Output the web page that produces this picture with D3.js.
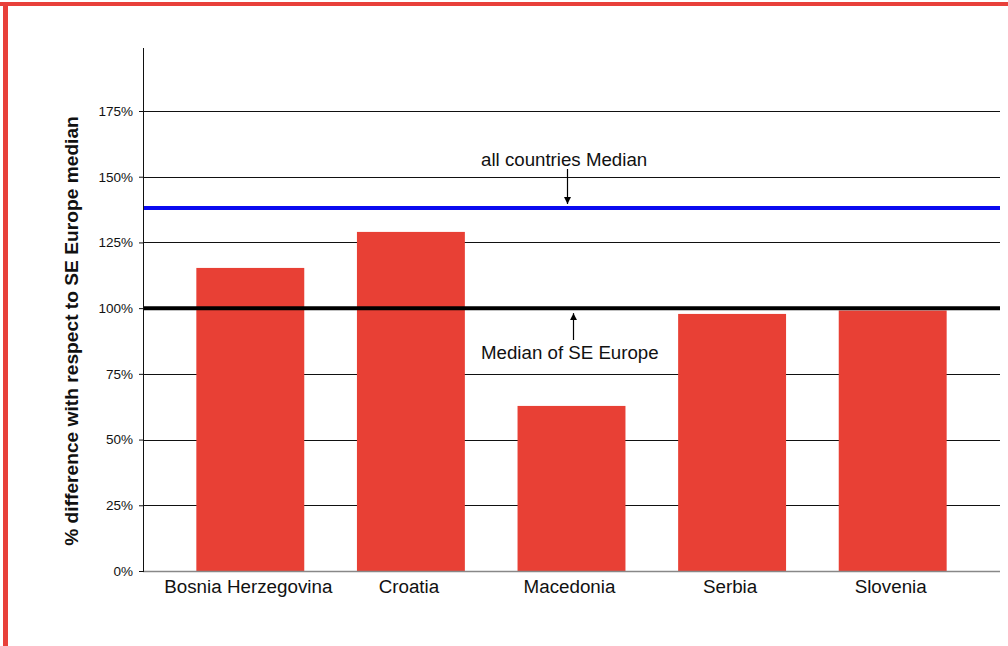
<!DOCTYPE html>
<html>
<head>
<meta charset="utf-8">
<script src="https://cdn.jsdelivr.net/npm/d3@7/dist/d3.min.js"></script>
<style>
  html, body { margin: 0; padding: 0; background: #fff; }
  svg { display: block; }
  text { font-family: "Liberation Sans", Arial, sans-serif; fill: #111; }
</style>
</head>
<body>
<svg id="chart" width="1008" height="646"></svg>
<script>
// Country values, as % of the SE Europe median
const countries = ["Bosnia Herzegovina", "Croatia", "Macedonia", "Serbia", "Slovenia"];
const values = [115.3, 129.0, 62.8, 97.8, 99.1];

// Reference lines
const seEuropeMedian = 100;
const allCountriesMedian = 138.1;

// Axis ticks
const yTicks = [0, 25, 50, 75, 100, 125, 150, 175];
const yTickLabels = ["0%", "25%", "50%", "75%", "100%", "125%", "150%", "175%"];

const svg = d3.select("#chart");
const W = 1008, H = 646;

// Frame: red rule along the top and left edges
svg.append("rect").attr("x", 0).attr("y", 2).attr("width", W).attr("height", 4).attr("fill", "#e8403a");
svg.append("rect").attr("x", 3).attr("y", 2).attr("width", 5).attr("height", H - 2).attr("fill", "#e8403a");

const plot = { left: 143, right: 1000, top: 48, bottom: 571 };

const y = d3.scaleLinear().domain([0, 175]).range([plot.bottom, 111]);
const x = d3.scaleBand().domain(countries).range([170, 973]).paddingInner(0.328).paddingOuter(0.164);

// Horizontal gridlines
svg.append("g").selectAll("line")
  .data(yTicks.filter(d => d !== 0 && d !== seEuropeMedian))
  .join("line")
  .attr("x1", plot.left).attr("x2", plot.right)
  .attr("y1", d => Math.round(y(d)) + 0.5).attr("y2", d => Math.round(y(d)) + 0.5)
  .attr("stroke", "#111").attr("stroke-width", 1);

// Bars
svg.append("g").selectAll("rect")
  .data(countries.map((c, i) => ({ c, v: values[i] })))
  .join("rect")
  .attr("x", d => x(d.c))
  .attr("width", x.bandwidth())
  .attr("y", d => y(d.v))
  .attr("height", d => y(0) - y(d.v))
  .attr("fill", "#e84035");

// Baseline
svg.append("line")
  .attr("x1", plot.left).attr("x2", plot.right)
  .attr("y1", y(0) + 0.5).attr("y2", y(0) + 0.5)
  .attr("stroke", "#888").attr("stroke-width", 1.5);

// Median reference lines
svg.append("line")
  .attr("x1", plot.left).attr("x2", plot.right)
  .attr("y1", y(allCountriesMedian)).attr("y2", y(allCountriesMedian))
  .attr("stroke", "#0a0af0").attr("stroke-width", 4);
svg.append("line")
  .attr("x1", plot.left).attr("x2", plot.right)
  .attr("y1", y(seEuropeMedian)).attr("y2", y(seEuropeMedian))
  .attr("stroke", "#000").attr("stroke-width", 4);

// Y axis
const yAxis = d3.axisLeft(y)
  .tickValues(yTicks)
  .tickFormat((d, i) => yTickLabels[i])
  .tickSize(4)
  .tickPadding(6);
const gy = svg.append("g").attr("transform", `translate(${plot.left},0)`).call(yAxis);
gy.select(".domain").remove();
gy.selectAll(".tick line").attr("stroke", "#111");
gy.selectAll(".tick text")
  .attr("font-family", "Liberation Sans, Arial, sans-serif")
  .attr("font-size", 13.5).attr("fill", "#222");
svg.append("line")
  .attr("x1", plot.left + 0.5).attr("x2", plot.left + 0.5)
  .attr("y1", plot.top).attr("y2", plot.bottom + 1)
  .attr("stroke", "#111").attr("stroke-width", 1);

// Category labels
svg.append("g").selectAll("text")
  .data(countries)
  .join("text")
  .attr("x", d => x(d) + x.bandwidth() / 2 - 2)
  .attr("y", 593)
  .attr("text-anchor", "middle")
  .attr("font-size", 18.8)
  .text(d => d);

// Y axis title
svg.append("text")
  .attr("transform", `translate(78,331) rotate(-90)`)
  .attr("text-anchor", "middle")
  .attr("font-size", 19.2)
  .attr("font-weight", "bold")
  .text("% difference with respect to SE Europe median");

// Annotations with arrows
const defs = svg.append("defs");
defs.append("marker")
  .attr("id", "arrow").attr("viewBox", "0 0 10 10")
  .attr("refX", 10).attr("refY", 5)
  .attr("markerWidth", 7).attr("markerHeight", 7)
  .attr("markerUnits", "userSpaceOnUse")
  .attr("orient", "auto")
  .append("path").attr("d", "M0,0 L10,5 L0,10 Z").attr("fill", "#000");

svg.append("text")
  .attr("x", 481).attr("y", 166)
  .attr("font-size", 18.7)
  .text("all countries Median");
svg.append("line")
  .attr("x1", 567.5).attr("x2", 567.5)
  .attr("y1", 169).attr("y2", y(allCountriesMedian) - 4)
  .attr("stroke", "#000").attr("stroke-width", 1.2)
  .attr("marker-end", "url(#arrow)");

svg.append("text")
  .attr("x", 481).attr("y", 359)
  .attr("font-size", 18.7)
  .text("Median of SE Europe");
svg.append("line")
  .attr("x1", 573.5).attr("x2", 573.5)
  .attr("y1", 340).attr("y2", y(seEuropeMedian) + 5)
  .attr("stroke", "#000").attr("stroke-width", 1.2)
  .attr("marker-end", "url(#arrow)");
</script>
</body>
</html>
